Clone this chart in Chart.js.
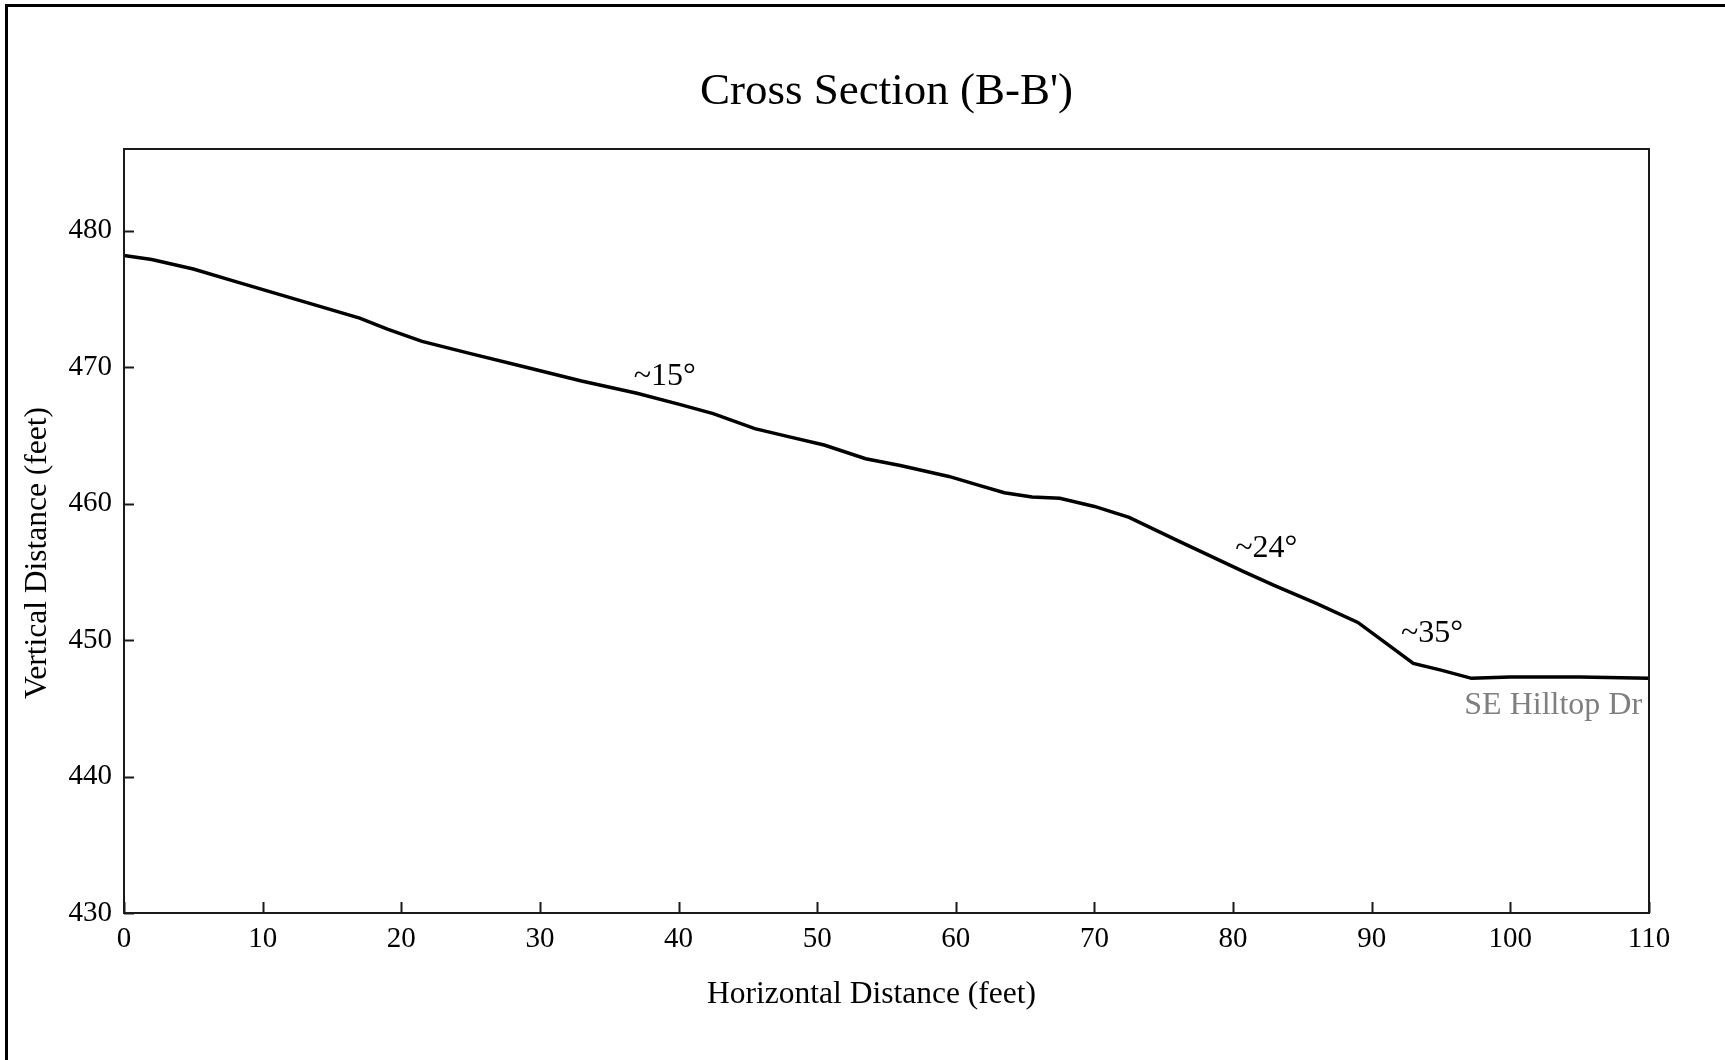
<!DOCTYPE html>
<html>
<head>
<meta charset="utf-8">
<title>Cross Section (B-B')</title>
<script src="https://cdn.jsdelivr.net/npm/chart.js@4.4.1/dist/chart.umd.min.js"></script>
<style>
  html, body { margin: 0; padding: 0; background: #ffffff; }
  #wrap { width: 1725px; height: 1060px; position: relative; }
  canvas { display: block; }
</style>
</head>
<body>
<div id="wrap"><canvas id="chart" width="1725" height="1060"></canvas></div>
<script>
// ---- Data ----
const distanceFeet = [0, 2, 5, 8, 11, 14, 17, 19, 21.5, 25, 29, 33, 37, 40, 42.5, 45.5, 48, 50.5, 53.5, 56,
  59.5, 61.5, 63.5, 65.5, 67.5, 70, 72.5, 76, 80.8, 83, 86, 89, 91, 93, 95, 97.2, 100, 105, 110];
const elevationFeet = [478.2, 477.9, 477.2, 476.3, 475.4, 474.5, 473.6, 472.8, 471.9, 471.0, 470.0, 469.0, 468.1, 467.3, 466.6, 465.5, 464.9, 464.3, 463.3, 462.8,
  462.0, 461.4, 460.8, 460.5, 460.4, 459.8, 459.0, 457.3, 455.0, 454.0, 452.7, 451.3, 449.8, 448.3, 447.8, 447.2, 447.3, 447.3, 447.2];
const xTickValues = [0, 10, 20, 30, 40, 50, 60, 70, 80, 90, 100, 110];
const yTickValues = [430, 440, 450, 460, 470, 480];
const noteTexts = ['~15\u00B0', '~24\u00B0', '~35\u00B0', 'SE Hilltop Dr'];
const noteX = [39, 82.4, 94.35, 109.5];
const noteY = [468.7, 456.1, 449.9, 444.6];

const chartTitle = "Cross Section (B-B')";
const xAxisTitle = 'Horizontal Distance (feet)';
const yAxisTitle = 'Vertical Distance (feet)';

// ---- Styling ----
const SERIF = "'Liberation Serif', 'DejaVu Serif', 'Times New Roman', serif";
const noteStyles = [
  { color: '#000000', align: 'center' },
  { color: '#000000', align: 'center' },
  { color: '#000000', align: 'center' },
  { color: '#7f7f7f', align: 'right' }
];
const axisTitleFont = '31.5px ' + SERIF;

const points = distanceFeet.map((x, i) => ({ x: x, y: elevationFeet[i] }));

const decorPlugin = {
  id: 'decor',
  beforeDraw(chart) {
    const ctx = chart.ctx;
    ctx.save();
    ctx.fillStyle = '#ffffff';
    ctx.fillRect(0, 0, chart.width, chart.height);
    // outer frame (top and left edges visible)
    ctx.strokeStyle = '#000000';
    ctx.lineWidth = 3;
    ctx.beginPath();
    ctx.moveTo(6.5, chart.height + 5);
    ctx.lineTo(6.5, 5.5);
    ctx.lineTo(chart.width + 5, 5.5);
    ctx.stroke();
    ctx.restore();
  },
  afterDatasetsDraw(chart) {
    const ctx = chart.ctx;
    const a = chart.chartArea;
    const xs = chart.scales.x, ys = chart.scales.y;
    ctx.save();
    // plot box
    ctx.strokeStyle = '#1a1a1a';
    ctx.lineWidth = 2;
    ctx.strokeRect(a.left, a.top, a.right - a.left, a.bottom - a.top);
    // inward tick marks
    ctx.beginPath();
    xs.ticks.forEach(t => {
      const px = Math.round(xs.getPixelForValue(t.value)) + 0.5;
      ctx.moveTo(px, a.bottom);
      ctx.lineTo(px, a.bottom - 11);
    });
    ys.ticks.forEach(t => {
      const py = Math.round(ys.getPixelForValue(t.value)) + 0.5;
      ctx.moveTo(a.left, py);
      ctx.lineTo(a.left + 10, py);
    });
    ctx.stroke();
    // axis titles
    ctx.fillStyle = '#000000';
    ctx.font = axisTitleFont;
    ctx.textAlign = 'center';
    ctx.textBaseline = 'middle';
    ctx.fillText(xAxisTitle, (a.left + a.right) / 2 - 15, a.bottom + 82);
    ctx.save();
    ctx.translate(38, (a.top + a.bottom) / 2 + 22);
    ctx.rotate(-Math.PI / 2);
    ctx.fillText(yAxisTitle, 0, 0);
    ctx.restore();
    // text notes placed at data coordinates
    ctx.font = '32px ' + SERIF;
    ctx.textBaseline = 'alphabetic';
    noteTexts.forEach((txt, i) => {
      ctx.fillStyle = noteStyles[i].color;
      ctx.textAlign = noteStyles[i].align;
      ctx.fillText(txt, xs.getPixelForValue(noteX[i]), ys.getPixelForValue(noteY[i]));
    });
    ctx.restore();
  }
};

new Chart(document.getElementById('chart'), {
  type: 'scatter',
  data: {
    datasets: [{
      label: 'Ground profile',
      data: points,
      showLine: true,
      borderColor: '#000000',
      backgroundColor: '#000000',
      borderWidth: 3.5,
      pointRadius: 0,
      tension: 0,
      clip: false
    }]
  },
  options: {
    responsive: false,
    animation: false,
    devicePixelRatio: 1,
    layout: { padding: { left: 0, right: 76, top: 0, bottom: 0 } },
    plugins: {
      legend: { display: false },
      tooltip: { enabled: false },
      title: {
        display: true,
        text: chartTitle,
        fullSize: false,
        color: '#000000',
        font: { family: SERIF, size: 45, weight: 'normal' },
        padding: { top: 65, bottom: 30 }
      }
    },
    scales: {
      x: {
        type: 'linear',
        min: 0,
        max: 110,
        afterBuildTicks: s => { s.ticks = xTickValues.map(v => ({ value: v })); },
        afterFit: s => { s.height = 147; },
        ticks: {
          color: '#000000',
          font: { family: SERIF, size: 29 },
          padding: 1,
          maxRotation: 0,
          autoSkip: false
        },
        grid: { display: false },
        border: { display: false },
        title: { display: false, text: xAxisTitle }
      },
      y: {
        type: 'linear',
        min: 430,
        max: 486,
        afterBuildTicks: s => { s.ticks = yTickValues.map(v => ({ value: v })); },
        afterFit: s => { s.width = 124; },
        ticks: {
          color: '#000000',
          font: { family: SERIF, size: 29 },
          padding: 4,
          autoSkip: false
        },
        grid: { display: false },
        border: { display: false },
        title: { display: false, text: yAxisTitle }
      }
    }
  },
  plugins: [decorPlugin]
});
</script>
</body>
</html>
